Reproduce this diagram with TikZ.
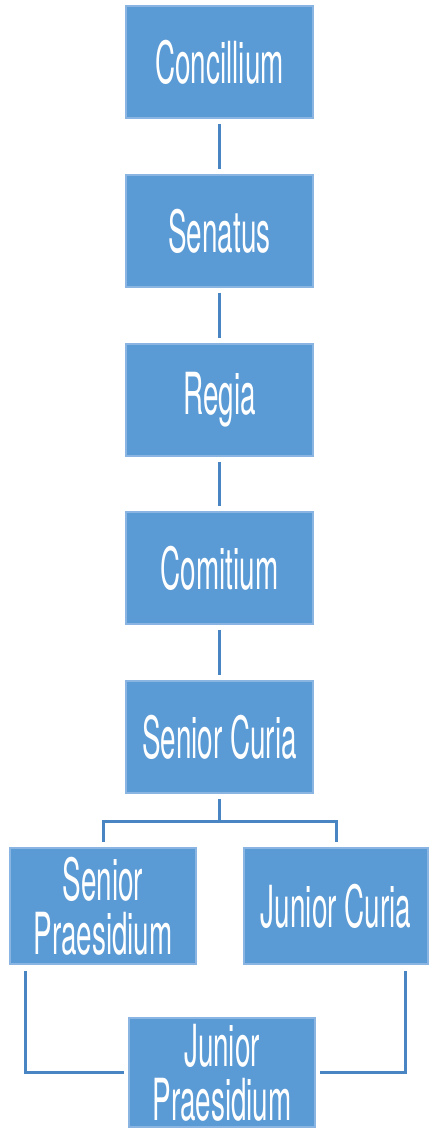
\documentclass[tikz,border=0pt]{standalone}
\usepackage{fontspec}
\setmainfont[FakeStretch=0.48]{TeX Gyre Heros}
\definecolor{boxfill}{HTML}{5B9BD5}
\definecolor{boxedge}{HTML}{8AB4E2}
\definecolor{linec}{HTML}{4A85C3}
\begin{document}
\begin{tikzpicture}[x=1pt,y=-1pt,
  orgbox/.style={rectangle,fill=boxfill,draw=boxedge,line width=1.5pt,minimum width=187pt,minimum height=112pt,inner sep=2pt,text=white,align=center,font=\fontsize{58}{54}\selectfont},
  conn/.style={draw=linec,line width=3pt,line cap=butt}]
\useasboundingbox (0,0) rectangle (428,1131);
\node[orgbox] (c1) at (219.5,62) {Concillium};
\node[orgbox] (c2) at (219.5,231) {Senatus};
\node[orgbox] (c3) at (219.5,400) {Regia};
\node[orgbox] (c4) at (219.5,568) {Comitium};
\node[orgbox] (c5) at (219.5,737) {Senior Curia};
\node[orgbox,minimum width=186pt,minimum height=116pt] (sp) at (103,906) {Senior\\Praesidium};
\node[orgbox,minimum width=184pt,minimum height=116pt] (jc) at (336,906) {Junior Curia};
\node[orgbox,minimum width=186pt,minimum height=109pt,inner sep=0pt] (jp) at (222,1072.5) {Junior\\Praesidium};
\draw[conn,shorten <=5pt,shorten >=5pt] (c1.south) -- (c2.north);
\draw[conn,shorten <=5pt,shorten >=5pt] (c2.south) -- (c3.north);
\draw[conn,shorten <=5pt,shorten >=5pt] (c3.south) -- (c4.north);
\draw[conn,shorten <=5pt,shorten >=5pt] (c4.south) -- (c5.north);
\coordinate (split) at ([yshift=-28pt]c5.south);
\draw[conn,shorten <=5pt,shorten >=5pt] (c5.south) -- (split) -| (sp.north);
\draw[conn,shorten >=5pt] (split) -| (jc.north);
\coordinate (spleg) at ([xshift=16pt,yshift=-6pt]sp.south west);
\coordinate (jcleg) at ([xshift=-23pt,yshift=-6pt]jc.south east);
\draw[conn,shorten >=4pt] (spleg) |- (jp.west);
\draw[conn,shorten >=4pt] (jcleg) |- (jp.east);
\end{tikzpicture}
\end{document}
